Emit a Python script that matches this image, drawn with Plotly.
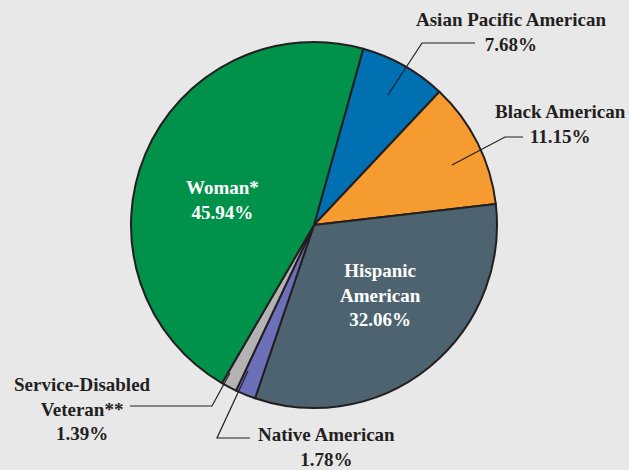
import plotly.graph_objects as go

W, H = 629, 470

categories = ["Asian Pacific American", "Black American", "Hispanic American",
              "Native American", "Service-Disabled Veteran", "Woman"]
values = [7.68, 11.15, 32.06, 1.78, 1.39, 45.94]
label_text = ["Asian Pacific American", "Black American", "Hispanic<br>American",
              "Native American", "Service-Disabled<br>Veteran**", "Woman*"]
colors = ["#0070b3", "#f69b2f", "#4d6470", "#6c6fba", "#b3b3b3", "#00914a"]

# pixel layout helpers
def px(x):
    return x / W

def py(y):
    return 1 - y / H

cx, cy, r = 314, 225, 183

fig = go.Figure(go.Pie(
    labels=categories,
    values=values,
    sort=False,
    direction="clockwise",
    rotation=15.6,
    marker=dict(colors=colors, line=dict(color="#231f20", width=2)),
    textinfo="none",
    hoverinfo="label+percent",
    domain=dict(x=[px(cx - r), px(cx + r)], y=[py(cy + r), py(cy - r)]),
    showlegend=False,
))

FONT = "Liberation Serif"
dark = "#231f20"

label_specs = [
    (0, 511, 32, dark),
    (1, 560, 124, dark),
    (2, 380, 295, "white"),
    (3, 326, 447, dark),
    (4, 82, 409, dark),
    (5, 222, 200, "white"),
]
annotations = []
for i, x, y, c in label_specs:
    annotations.append(dict(
        x=px(x), y=py(y), xref="paper", yref="paper",
        text=f"<b>{label_text[i]}<br>{values[i]:.2f}%</b>",
        showarrow=False, align="center", xanchor="center", yanchor="middle",
        font=dict(family=FONT, size=19, color=c),
    ))

leaders = [
    [(388, 95), (422, 43), (475, 43)],
    [(452, 165), (505, 137), (523, 137)],
    [(230, 373), (212, 406), (130, 406)],
    [(248, 371), (217, 438), (250, 438)],
]
shapes = []
for pts in leaders:
    path = "M " + " L ".join(f"{px(a)},{py(b)}" for a, b in pts)
    shapes.append(dict(type="path", path=path, xref="paper", yref="paper",
                       line=dict(color=dark, width=1.2)))

fig.update_layout(
    width=W, height=H,
    margin=dict(l=0, r=0, t=0, b=0),
    paper_bgcolor="#e8e8e9",
    plot_bgcolor="#e8e8e9",
    annotations=annotations,
    shapes=shapes,
)

fig.write_html("out.html",
               config={"displayModeBar": False},
               post_script="document.body.style.margin='0';document.body.style.overflow='hidden';")
